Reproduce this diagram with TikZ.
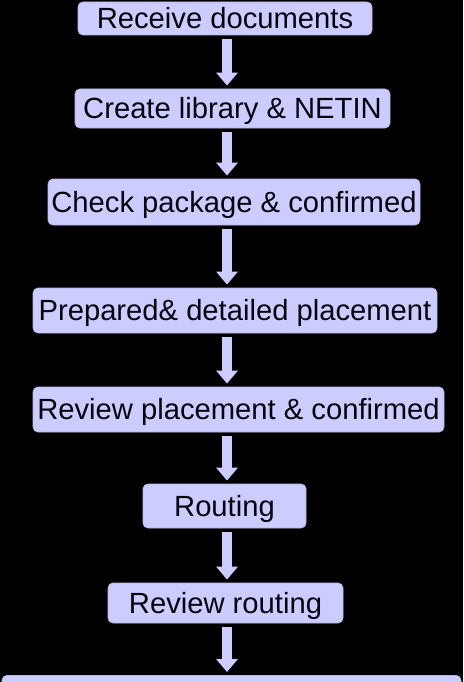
\documentclass[tikz,border=0pt]{standalone}
\usepackage{fontspec}
\setmainfont{Liberation Sans}
\usepackage{tikz}
\usetikzlibrary{arrows.meta,positioning,calc}
\definecolor{Lavender}{HTML}{CCCCFF}
\definecolor{LavEdge}{HTML}{B8B8E8}
\definecolor{InkNavy}{HTML}{05050F}

\begin{document}
\begin{tikzpicture}[x=1pt,y=-1pt,
  box/.style={rectangle,rounded corners=5pt,fill=Lavender,draw=LavEdge,line width=0.8pt,
              text=InkNavy,inner sep=0pt,text height=20.8pt,text depth=0pt,
              font=\fontsize{29.2}{33}\selectfont},
  flow/.style={draw=Lavender,line width=10pt,-{Triangle[width=21pt,length=13pt]},
               shorten <=4pt,shorten >=3pt}
]
\useasboundingbox (0,0) rectangle (463,682);
\clip (0,0) rectangle (463,682);
\fill[black] (0,0) rectangle (463,682);

%% Process steps
\node[box,minimum width=294pt,minimum height=33pt] (recv)   at (225,18.5)  {Receive documents};
\node[box,minimum width=315pt,minimum height=39pt] (lib)    at (232.5,108.5) {Create library \& NETIN};
\node[box,minimum width=372pt,minimum height=46pt] (pkg)    at (234,202)   {Check package \& confirmed};
\node[box,minimum width=404pt,minimum height=45pt] (place)  at (235,310.5) {Prepared\& detailed placement};
\node[box,minimum width=411pt,minimum height=45pt] (revpl)  at (238.5,409.5) {Review placement \& confirmed};
\node[box,minimum width=163pt,minimum height=44pt] (route)  at (224.5,506) {Routing};
\node[box,minimum width=235pt,minimum height=40pt] (revrt)  at (225.5,603) {Review routing};
\node[box,minimum width=459pt,minimum height=40pt,anchor=north] (next) at (231.5,675) {};

%% Arrows
\coordinate (ax) at (227,0);
\draw[flow] (recv.south -| ax)  -- (lib.north -| ax);
\draw[flow] (lib.south -| ax)   -- (pkg.north -| ax);
\draw[flow] (pkg.south -| ax)   -- (place.north -| ax);
\draw[flow] (place.south -| ax) -- (revpl.north -| ax);
\draw[flow] (revpl.south -| ax) -- (route.north -| ax);
\draw[flow] (route.south -| ax) -- (revrt.north -| ax);
\draw[flow] (revrt.south -| ax) -- (next.north -| ax);

\end{tikzpicture}
\end{document}
